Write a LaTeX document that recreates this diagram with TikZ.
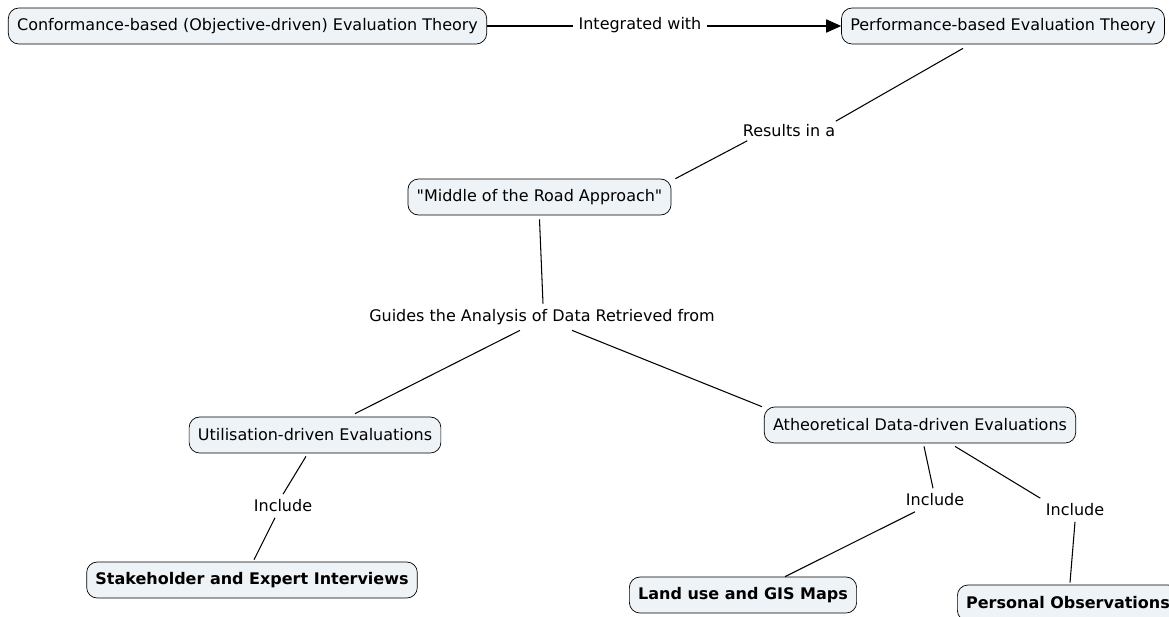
\documentclass[tikz,border=0pt]{standalone}
\usepackage{fontspec}
\setmainfont{DejaVu Sans}[Ligatures=TeXOff]
\usetikzlibrary{arrows.meta,positioning,calc}
\definecolor{boxfill}{HTML}{EEF3F7}

\begin{document}
\begin{tikzpicture}[x=0.02cm, y=-0.02cm,
    concept/.style={draw=black, fill=boxfill, rounded corners=6pt, inner xsep=5pt,
        minimum height=0.72cm, font=\fontsize{9.1}{11}\selectfont},
    keyconcept/.style={concept, font=\fontsize{9.1}{11}\selectfont\bfseries},
    linkword/.style={inner sep=3pt, font=\fontsize{9.1}{11}\selectfont},
    link/.style={draw=black, line width=0.6pt}]
    \useasboundingbox (0,0) rectangle (1169,616);
    \clip (0,0) rectangle (1169,616);

    % Concepts
    \node[concept] (conf) at (247.5,26) {Conformance-based (Objective-driven) Evaluation Theory};
    \node[concept] (perf) at (1003,26) {Performance-based Evaluation Theory};
    \node[concept] (mid) at (539.5,197) {"Middle of the Road Approach"};
    \node[concept] (util) at (315,435) {Utilisation-driven Evaluations};
    \node[concept] (athe) at (920,425) {Atheoretical Data-driven Evaluations};
    \node[keyconcept] (stake) at (252,580) {Stakeholder and Expert Interviews};
    \node[keyconcept] (land) at (743,595) {Land use and GIS Maps};
    \node[keyconcept] (pers) at (1068,603) {Personal Observations};

    % Linking words
    \node[linkword] (integ) at (640,25) {Integrated with};
    \node[linkword] (res) at (789,131) {Results in a};
    \node[linkword] (guide) at (542,317) {Guides the Analysis of Data Retrieved from};
    \node[linkword] (incA) at (283,506) {Include};
    \node[linkword] (incB) at (935,500) {Include};
    \node[linkword] (incC) at (1075,510) {Include};

    % Connectors
    \draw[link] (conf.east) -- (conf.east -| integ.west);
    \draw[link, -{Triangle[length=8.5pt, width=7.5pt]}] (perf.west -| integ.east) -- (perf.west);
    \draw[link] ($(perf.south)+(-40,4)$) -- ($(res.north east)+(-5,2)$);
    \draw[link] ($(res.south west)+(10,-2)$) -- ($(mid.north east)+(4,0)$);
    \draw[link] ($(mid.south)+(0,4)$) -- ($(guide.north)+(1,0)$);
    \draw[link] ($(guide.south)+(-22,0)$) -- ($(util.north)+(40,-3)$);
    \draw[link] ($(guide.south)+(30,0)$) -- ($(athe.north west)+(-2,0)$);
    \draw[link] ($(util.south)+(-9,3)$) -- (incA.north);
    \draw[link] ($(incA.south)+(-8,0)$) -- ($(stake.north)+(2,-2)$);
    \draw[link] ($(athe.south)+(4,3)$) -- ($(incB.north)+(-2,0)$);
    \draw[link] ($(incB.south)+(-20,0)$) -- ($(land.north)+(42,0)$);
    \draw[link] ($(athe.south)+(35,3)$) -- ($(incC.north west)+(0,0)$);
    \draw[link] (incC.south) -- ($(pers.north)+(2,-2)$);
\end{tikzpicture}
\end{document}
